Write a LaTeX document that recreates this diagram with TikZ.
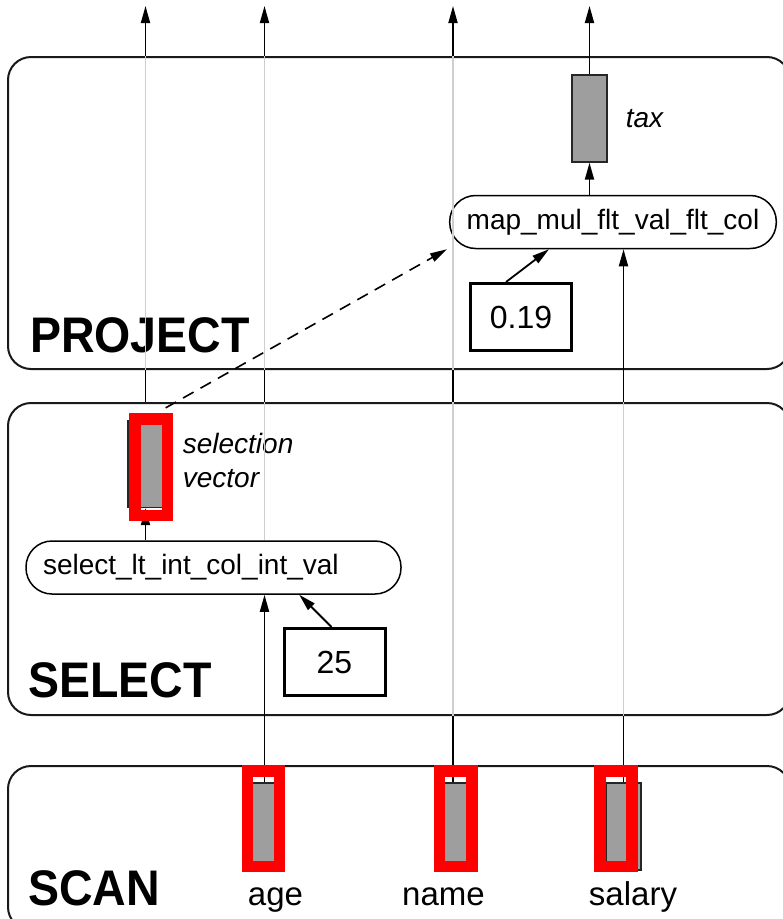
\documentclass[tikz,border=0pt]{standalone}
\usepackage{fontspec}
\setmainfont{Liberation Sans}
\usetikzlibrary{arrows.meta, positioning, calc}

\begin{document}
\begin{tikzpicture}[x=1pt, y=-1pt,
    panel/.style={draw=black!90, line width=2pt, rounded corners=23pt, minimum width=782pt, inner sep=0pt},
    vec/.style={draw=black!85, fill=black!38, line width=1.3pt, minimum width=35pt, minimum height=87pt, inner sep=0pt},
    opnode/.style={draw, fill=white, line width=1.5pt, rounded corners=26pt, minimum height=53pt, inner xsep=17pt, font=\fontsize{28}{30}\selectfont},
    constbox/.style={draw, fill=white, line width=3pt, minimum width=101pt, minimum height=67pt, font=\fontsize{32}{34}\selectfont},
    note/.style={inner sep=0pt, align=left, font=\fontsize{28}{34}\selectfont\itshape},
    colname/.style={inner sep=0pt, anchor=base, font=\fontsize{33}{36}\selectfont},
    header/.style={inner sep=0pt, anchor=base west, font=\fontsize{50}{50}\selectfont\bfseries},
    flow/.style={line width=1.8pt, -{Triangle[length=17pt, width=9pt]}},
    link/.style={line width=1.8pt},
    pass/.style={line width=1.5pt, black!19},
    hilite/.style={draw=red, line width=11.5pt}]

  \useasboundingbox (0,0) rectangle (783,919);
  \fill[white] (0,0) rectangle (783,919);
  \clip (0,0) rectangle (783,919);
  \coordinate (top) at (0,6);

  % operator panels
  \node[panel, minimum height=312pt] (project) at (399,213) {};
  \node[panel, minimum height=312pt] (select) at (399,559) {};
  \node[panel, minimum height=164pt] (scan) at (399,848) {};

  \node[header] (project-lbl) at (30,352) {\scalebox{0.93}[1]{PROJECT}};
  \node[header] (select-lbl) at (28,697) {\scalebox{0.93}[1]{SELECT}};
  \node[header] (scan-lbl) at (28,905) {\scalebox{0.93}[1]{SCAN}};

  % vectors
  \node[vec] (age) at (264.5,826.5) {};
  \node[vec] (name) at (453,826.5) {};
  \node[vec] (salary) at (623.5,826.5) {};
  \node[vec] (selvec) at (145.5,464) {};
  \node[vec] (tax) at (589.5,118.5) {};

  \node[colname] (age-lbl) at (275.5,905) {age};
  \node[colname] (name-lbl) at (443.5,905) {name};
  \node[colname] (salary-lbl) at (633,905) {salary};
  \node[note, right=19pt of selvec, yshift=4pt] (selvec-lbl) {selection\\vector};
  \node[note, right=18pt of tax] (tax-lbl) {tax};

  % primitives and constants
  \node[opnode, text width=341pt, align=left] (selop) at (213.5,567.5) {select\_lt\_int\_col\_int\_val};
  \node[opnode, minimum width=322pt] (mapop) at (613,222) {map\_mul\_flt\_val\_flt\_col};
  \node[constbox] (c25) at (334.5,662) {25};
  \node[constbox] (c019) at (521,317) {0.19};

  % selection vector column
  \draw[flow] (selop.north -| selvec) -- (selvec.south);
  \draw[link] (selvec |- select.north) -- (selvec |- project.south);
  \draw[pass] (selvec |- project.south) -- (selvec |- project.north);
  \draw[flow] (selvec |- project.north) -- (selvec |- top);

  % age column
  \draw[flow] (age.north) -- (age |- selop.south);
  \draw[pass] (age |- selop.north) -- (age |- select.north);
  \draw[link] (age |- select.north) -- (age |- project.south);
  \draw[pass] (age |- project.south) -- (age |- project.north);
  \draw[flow] (age |- project.north) -- (age |- top);

  % name column
  \draw[link] (name.north) -- (name |- select.south);
  \draw[pass] (name |- select.south) -- (name |- select.north);
  \draw[link] (name |- select.north) -- (name |- project.south);
  \draw[pass] (name |- project.south) -- (name |- project.north);
  \draw[flow] (name |- project.north) -- (name |- top);

  % salary column
  \draw[link] (salary.north) -- (salary |- select.south);
  \draw[pass] (salary |- select.south) -- (salary |- select.north);
  \draw[link] (salary |- select.north) -- (salary |- project.south);
  \draw[flow] (salary |- project.south) -- (salary |- mapop.south);

  % tax column
  \draw[flow] (mapop.north -| tax) -- (tax.south);
  \draw[flow] (tax.north) -- (tax |- top);

  % constants into primitives
  \draw[flow] ($(c25.north west)+(49,0)$) -- ($(selop.south west)+(274,0)$);
  \draw[flow] ($(c019.north west)+(37,0)$) -- ($(mapop.south west)+(100,0)$);
  \draw[flow, line width=1.6pt, dash pattern=on 12pt off 8pt] ($(selvec.north east)+(2,-12)$) -- ($(mapop.south west)+(-2,0)$);

  % highlighted vectors
  \draw[hilite] (134.75,418.75) rectangle (167.25,515.25);
  \draw[hilite] (247.25,770.75) rectangle (279.25,866.25);
  \draw[hilite] (439.25,770.75) rectangle (471.75,866.25);
  \draw[hilite] (599.75,770.75) rectangle (631.75,866.25);
\end{tikzpicture}
\end{document}
